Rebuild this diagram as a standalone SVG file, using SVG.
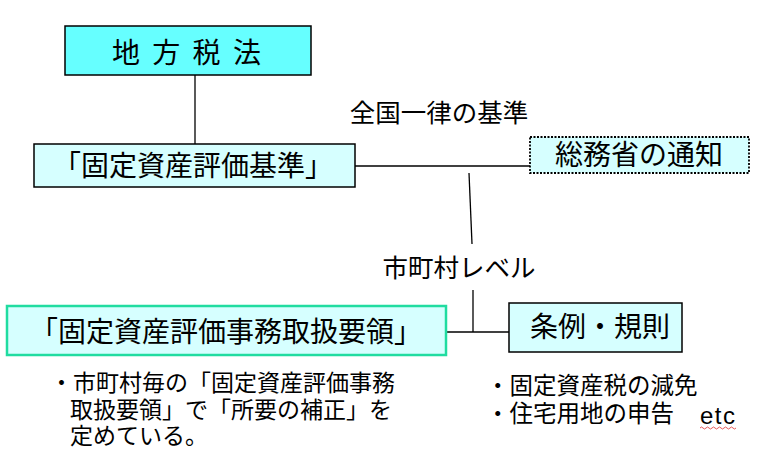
<svg xmlns="http://www.w3.org/2000/svg" width="779" height="461" viewBox="0 0 779 461">
<style>
.jp{font-family:"Noto Sans CJK JP","Noto Sans",sans-serif;fill:#000}
.box{fill:#d6ffff;stroke:#000;stroke-width:1.5}
.lbl{font-size:28px}
.conn line{stroke:#000;stroke-width:1.3}
.sm{font-size:23px}
</style>
<rect width="779" height="461" fill="#fff"/>
<g id="connectors" class="conn">
<line x1="195" y1="75" x2="195" y2="144"/>
<line x1="355" y1="166" x2="530" y2="166"/>
<line x1="469" y1="173" x2="472" y2="244"/>
<line x1="473" y1="290" x2="473" y2="332"/>
<line x1="446" y1="332" x2="509" y2="332"/>
</g>
<g id="chihozeiho">
<rect x="65" y="26" width="246" height="49" fill="#66ffff" stroke="#000" stroke-width="1.5"/>
<text class="jp lbl" x="188" y="63" text-anchor="middle" letter-spacing="3">地 方 税 法</text>
</g>
<g id="kijun">
<rect class="box" x="34" y="144" width="321" height="43"/>
<text class="jp lbl" x="193" y="176" text-anchor="middle">「固定資産評価基準」</text>
</g>
<g id="tsuchi">
<rect x="530" y="137" width="219" height="36" fill="#d6ffff" stroke="#000" stroke-width="1.8" stroke-dasharray="2,1.5"/>
<text class="jp lbl" x="639" y="165" text-anchor="middle">総務省の通知</text>
</g>
<g id="yoryo">
<rect x="7" y="306" width="439" height="49" fill="#d6ffff" stroke="#20dca0" stroke-width="2.5"/>
<text class="jp lbl" x="226" y="342" text-anchor="middle">「固定資産評価事務取扱要領」</text>
</g>
<g id="jorei">
<rect class="box" x="509" y="303" width="173" height="49"/>
<text class="jp lbl" x="600" y="337" text-anchor="middle">条例・規則</text>
</g>
<g id="labels">
<text class="jp" font-size="25.5" x="439" y="122" text-anchor="middle">全国一律の基準</text>
<text class="jp" font-size="25.5" x="459" y="277" text-anchor="middle">市町村レベル</text>
</g>
<g id="notes">
<text class="jp sm" x="50" y="391">・市町村毎の「固定資産評価事務</text>
<text class="jp sm" x="70" y="418">取扱要領」で「所要の補正」を</text>
<text class="jp sm" x="70" y="444">定めている。</text>
<text class="jp" font-size="23.5" x="486" y="394">・固定資産税の減免</text>
<text class="jp" font-size="23.5" x="486" y="422">・住宅用地の申告</text>
<text x="700" y="424" font-family="Liberation Sans, Arial, sans-serif" font-size="24" textLength="35">etc</text>
<path d="M700 428 q1.5 -2 3 0 t3 0 t3 0 t3 0 t3 0 t3 0 t3 0 t3 0 t3 0 t3 0 t3 0 t3 0" fill="none" stroke="#e03030" stroke-width="0.8"/>
</g>
</svg>
